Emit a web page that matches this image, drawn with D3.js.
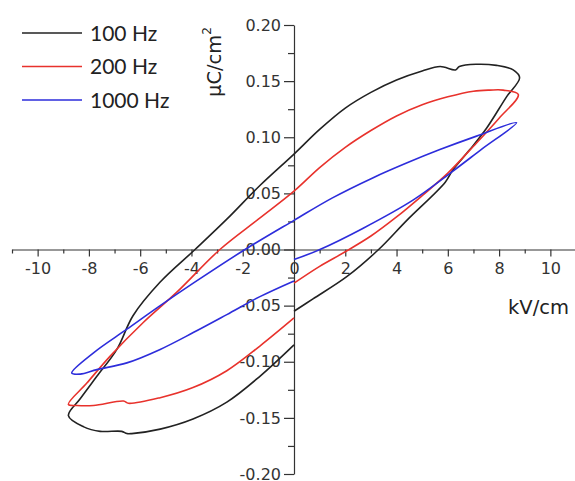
<!DOCTYPE html>
<html>
<head>
<meta charset="utf-8">
<script src="https://cdn.jsdelivr.net/npm/d3@7"></script>
<style>
  body { margin: 0; background: #fff; }
  .axis path, .axis line { stroke: #333; stroke-width: 1.2; }
  .axis text { font-family: "DejaVu Sans", sans-serif; font-size: 16px; fill: #333; }
  .title { font-family: "DejaVu Sans", sans-serif; font-size: 19.5px; fill: #222; }
  .legend text { font-family: Lato, "Open Sans", sans-serif; font-size: 21px; fill: #222; }
</style>
</head>
<body>
<div id="chart"></div>
<script>
var loop100 = [
  [0, -0.055], [0.74, -0.044], [2.07, -0.024], [3.3, 0], [4.4, 0.026], [5.9, 0.060],
  [6.2, 0.071], [6.86, 0.089], [7.51, 0.108], [8.29, 0.136], [8.8, 0.153],
  [8.55, 0.160], [7.9, 0.164], [7.1, 0.165], [6.45, 0.163], [6.3, 0.160],
  [5.7, 0.163], [5, 0.159], [4, 0.151], [3, 0.140], [2, 0.126],
  [1, 0.107], [0, 0.085], [-1.33, 0.057], [-2.62, 0.027], [-3.86, 0],
  [-5.22, -0.029], [-6.28, -0.059], [-6.91, -0.089], [-7.69, -0.113],
  [-8.34, -0.133], [-8.8, -0.148], [-8.2, -0.158], [-7.56, -0.162],
  [-6.72, -0.162], [-6.52, -0.164], [-6.33, -0.164], [-5.22, -0.160],
  [-3.94, -0.151], [-2.62, -0.136], [-1.33, -0.113], [0, -0.085]
];
var loop200 = [
  [0, -0.030], [1, -0.015], [2, -0.002], [3, 0.012], [4, 0.029],
  [5, 0.048], [6, 0.068], [7, 0.092], [8, 0.117], [8.75, 0.138],
  [8.16, 0.142], [7.64, 0.142], [7, 0.141], [6, 0.136], [5, 0.129],
  [4, 0.119], [3, 0.106], [2, 0.091], [1, 0.073], [0, 0.052], [-1.39, 0.027],
  [-2.89, 0], [-4.57, -0.038], [-5.88, -0.065], [-7.17, -0.095], [-8.08, -0.119],
  [-8.8, -0.138], [-8.47, -0.139], [-7.82, -0.139], [-6.65, -0.135],
  [-6.46, -0.137], [-5.22, -0.132], [-3.94, -0.123], [-2.62, -0.108],
  [-1.33, -0.086], [0, -0.061]
];
var loop1000 = [
  [0, -0.009], [1.01, 0], [2.7, 0.019], [4.64, 0.044], [6.15, 0.069],
  [7.3, 0.089], [8.68, 0.113],
  [7.12, 0.101], [5.69, 0.089], [4.39, 0.077], [3.09, 0.064], [1.5, 0.046],
  [0, 0.026], [-1.91, 0], [-3.93, -0.030], [-5.22, -0.050], [-6.52, -0.071],
  [-7.82, -0.092], [-8.67, -0.110], [-8.34, -0.111], [-7.69, -0.107],
  [-6.52, -0.101], [-5.22, -0.089], [-3.93, -0.074], [-2.62, -0.058],
  [-1.33, -0.042], [0, -0.028]
];
var seriesNames = ["100 Hz", "200 Hz", "1000 Hz"];
var seriesColors = ["#222222", "#e8322c", "#2d2ddb"];
var xMajor = [-10, -8, -6, -4, -2, 0, 2, 4, 6, 8, 10];
var xMinor = [-11, -9, -7, -5, -3, -1, 1, 3, 5, 7, 9];
var yMajor = [-0.2, -0.15, -0.1, -0.05, 0, 0.05, 0.1, 0.15, 0.2];
var yMinor = [-0.175, -0.125, -0.075, -0.025, 0.025, 0.075, 0.125, 0.175];

var width = 575, height = 481;

var svg = d3.select("#chart").append("svg")
    .attr("width", width)
    .attr("height", height);

// scales
var x = d3.scaleLinear().domain([-11, 11]).range([12, 576]);
var y = d3.scaleLinear().domain([-0.2, 0.2]).range([474, 25]);

// x axis through P = 0
var xg = svg.append("g").attr("class", "axis")
    .attr("transform", "translate(0," + y(0) + ")");
xg.call(d3.axisBottom(x).tickValues(xMajor).tickSize(7).tickSizeOuter(0)
    .tickPadding(6).tickFormat(function(d) { return String(d); }));
xg.append("g")
    .call(d3.axisBottom(x).tickValues(xMinor).tickSize(4).tickFormat(""))
    .select(".domain").remove();

// y axis through E = 0
var yg = svg.append("g").attr("class", "axis")
    .attr("transform", "translate(" + x(0) + ",0)");
yg.call(d3.axisLeft(y).tickValues(yMajor).tickSize(10).tickSizeOuter(0)
    .tickPadding(3).tickFormat(function(d) { return d.toFixed(2); }));
yg.append("g")
    .call(d3.axisLeft(y).tickValues(yMinor).tickSize(6).tickFormat(""))
    .select(".domain").remove();

// axis titles
svg.append("text").attr("class", "title")
    .attr("x", 508).attr("y", 314)
    .text("kV/cm");

var yt = svg.append("text").attr("class", "title")
    .attr("transform", "translate(221,97) rotate(-90)");
yt.append("tspan").text("\u03bcC/cm");
yt.append("tspan").attr("dy", -10).attr("font-size", 12).text("2");

// loops
var line = d3.line()
    .x(function(d) { return x(d[0]); })
    .y(function(d) { return y(d[1]); })
    .curve(d3.curveCatmullRom.alpha(0.5));

[loop100, loop200, loop1000].forEach(function(loop, i) {
  svg.append("path")
      .attr("d", line(loop))
      .attr("fill", "none")
      .attr("stroke", seriesColors[i])
      .attr("stroke-width", 1.6)
      .attr("stroke-linejoin", "round");
});

// legend
var legend = svg.append("g").attr("class", "legend");
seriesNames.forEach(function(name, i) {
  var ly = 33 + i * 33.5;
  legend.append("line")
      .attr("x1", 22).attr("x2", 82)
      .attr("y1", ly).attr("y2", ly)
      .attr("stroke", seriesColors[i])
      .attr("stroke-width", 1.5);
  legend.append("text")
      .attr("x", 90).attr("y", ly + 7.5)
      .text(name);
});
</script>
</body>
</html>
